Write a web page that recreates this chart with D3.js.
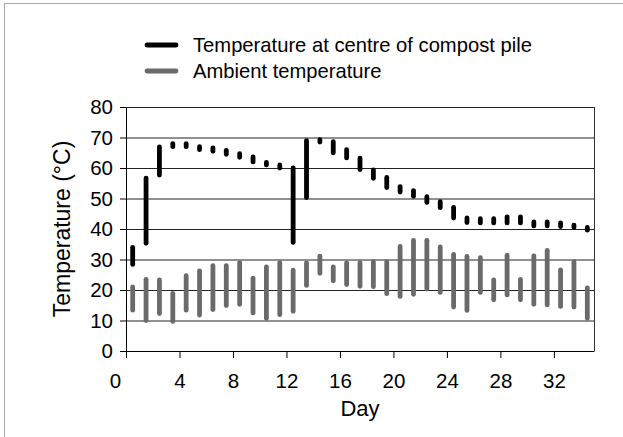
<!DOCTYPE html>
<html>
<head>
<meta charset="utf-8">
<script src="https://cdn.jsdelivr.net/npm/d3@7"></script>
<style>
  body { margin: 0; background: #fff; }
  text { font-family: "Liberation Sans", Arial, sans-serif; fill: #000; }
</style>
</head>
<body>
<div id="chart"></div>
<script>
// day numbers (bar drawn in the middle of each day)
const days = d3.range(1, 36);

// temperature at centre of compost pile, min / max per day
const compostLow = [28.4, 35.3, 57.7, 67, 67, 66, 65.5, 64.5, 63.5, 62, 61, 60, 35.6, 50.3, 68.5, 65, 63.3, 59.5, 56.6, 53.6,
    52.1, 50.7, 48.7, 47, 43.6, 42.1, 42, 42, 42, 42, 41, 41, 40.8, 40.5, 39.6];
const compostHigh = [34, 56.7, 66.9, 68, 68, 67, 66.6, 65.8, 64.7, 63.6, 61.8, 61, 60, 69, 69.3, 68.6, 66, 63.2, 59.4, 56.9,
    53.9, 52.6, 50.6, 49, 47.1, 43.6, 43.4, 43.4, 44, 44, 42.3, 42.3, 42, 41.3, 40.5];

// ambient temperature, min / max per day
const ambientLow = [13.4, 10, 12.3, 9.7, 13.4, 11.8, 13.6, 14.9, 15.3, 12.5, 10.7, 11.9, 13, 21.5, 25.5, 23, 21.8, 21.2, 21.1, 18.8,
    17.9, 18.6, 20.3, 19.2, 14.4, 13.3, 19.2, 16.8, 18.4, 16.8, 15.3, 15.1, 14.6, 14.4, 10.7];
const ambientHigh = [21, 23.5, 23.3, 18.9, 24.7, 26.3, 28, 28, 29, 23.9, 27.6, 29, 26.5, 28.9, 31.1, 27.6, 28.9, 29, 29.3, 29.3,
    34.3, 36.3, 36.3, 34.1, 31.7, 31, 30.6, 23.3, 31.4, 23.5, 31.2, 33, 26.6, 29.3, 20.7];

const xTicks = [0, 4, 8, 12, 16, 20, 24, 28, 32];
const yTicks = [0, 10, 20, 30, 40, 50, 60, 70, 80];

const seriesNames = ["Temperature at centre of compost pile", "Ambient temperature"];
const seriesColors = ["#000000", "#6a6a6a"];

const width = 623, height = 437;
const margin = { top: 107, right: 29, bottom: 86, left: 126 };
const innerW = width - margin.left - margin.right;
const innerH = height - margin.top - margin.bottom;

const svg = d3.select("#chart").append("svg")
    .attr("width", width)
    .attr("height", height);

// outer frame
svg.append("rect")
    .attr("x", 4.5).attr("y", 3.5)
    .attr("width", width).attr("height", height)
    .attr("fill", "none")
    .attr("stroke", "#a8a8a8");

const g = svg.append("g")
    .attr("transform", "translate(" + margin.left + "," + margin.top + ")");

const x = d3.scaleLinear().domain([0, 35]).range([0, innerW]);
const xBand = d3.scaleBand().domain(days).range([x(0), x(35)]);
const y = d3.scaleLinear().domain([0, 80]).range([innerH, 0]);

// gridlines
g.selectAll(".grid")
    .data(yTicks.slice(1))
    .enter()
    .append("line")
    .attr("class", "grid")
    .attr("x1", 0).attr("x2", innerW)
    .attr("y1", d => y(d) + 0.5).attr("y2", d => y(d) + 0.5)
    .attr("stroke", "#222")
    .attr("stroke-width", 1);

// right border
g.append("line")
    .attr("x1", innerW + 0.5).attr("x2", innerW + 0.5)
    .attr("y1", y(80)).attr("y2", y(0))
    .attr("stroke", "#333");

const barX = (d, i) => xBand(days[i]) + xBand.bandwidth() / 2;

// ambient bars
g.selectAll(".ambient")
    .data(ambientLow)
    .enter()
    .append("line")
    .attr("class", "ambient")
    .attr("x1", barX).attr("x2", barX)
    .attr("y1", d => y(d))
    .attr("y2", (d, i) => y(ambientHigh[i]))
    .attr("stroke", seriesColors[1])
    .attr("stroke-width", 4.8)
    .attr("stroke-linecap", "round");

// compost bars
g.selectAll(".compost")
    .data(compostLow)
    .enter()
    .append("line")
    .attr("class", "compost")
    .attr("x1", barX).attr("x2", barX)
    .attr("y1", d => y(d))
    .attr("y2", (d, i) => y(compostHigh[i]))
    .attr("stroke", seriesColors[0])
    .attr("stroke-width", 4.8)
    .attr("stroke-linecap", "round");

// axes
const xAxis = g.append("g")
    .attr("class", "x-axis")
    .attr("transform", "translate(0," + innerH + ")")
    .call(d3.axisBottom(x).tickValues(xTicks).tickSize(7).tickSizeOuter(0));

xAxis.selectAll("text")
    .style("font-size", "20.5px")
    .attr("y", 37)
    .attr("dy", 0)
    .attr("dx", d => d === 0 ? -11 : 0);

const yAxis = g.append("g")
    .attr("class", "y-axis")
    .call(d3.axisLeft(y).tickValues(yTicks).tickSize(6).tickSizeOuter(0));

yAxis.selectAll("text")
    .style("font-size", "20.5px")
    .attr("x", -13);

g.selectAll(".domain").attr("stroke", "#000");
g.selectAll(".tick line").attr("stroke", "#000");

// axis titles
svg.append("text")
    .attr("x", margin.left + x(17.5))
    .attr("y", 416)
    .attr("text-anchor", "middle")
    .style("font-size", "22px")
    .text("Day");

svg.append("text")
    .attr("transform", "translate(70," + (margin.top + innerH / 2) + ") rotate(-90)")
    .attr("text-anchor", "middle")
    .style("font-size", "23px")
    .text("Temperature (°C)");

// legend
const legend = svg.selectAll(".legend")
    .data(seriesNames)
    .enter()
    .append("g")
    .attr("class", "legend")
    .attr("transform", (d, i) => "translate(145," + (45 + i * 26) + ")");

legend.append("line")
    .attr("x1", 2).attr("x2", 31)
    .attr("stroke", (d, i) => seriesColors[i])
    .attr("stroke-width", 4.8)
    .attr("stroke-linecap", "round");

legend.append("text")
    .attr("x", 48)
    .attr("dy", "0.35em")
    .style("font-size", "20.2px")
    .text(d => d);
</script>
</body>
</html>
